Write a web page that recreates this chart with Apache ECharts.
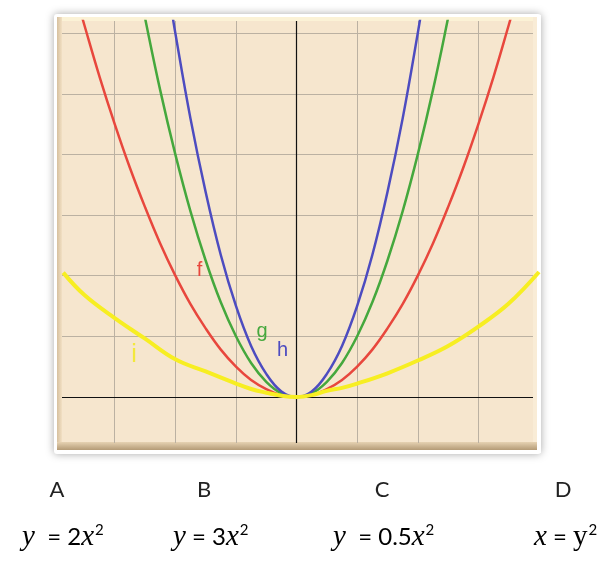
<!DOCTYPE html>
<html>
<head>
<meta charset="utf-8">
<script src="https://cdn.jsdelivr.net/npm/echarts@6/dist/echarts.min.js"></script>
<style>
html,body{margin:0;padding:0;background:#fff;}
#chart{width:612px;height:562px;}
</style>
</head>
<body>
<div id="chart"></div>
<script>
// ---- data ----
var curveF = [[-3.6,6.48],[-3.5,6.13],[-3.25,5.28],[-3,4.5],[-2.75,3.78],[-2.5,3.13],[-2.25,2.53],[-2,2],[-1.75,1.53],[-1.5,1.13],[-1.25,0.78],[-1,0.5],[-0.75,0.28],[-0.5,0.13],[-0.25,0.03],[0,0],[0.25,0.03],[0.5,0.13],[0.75,0.28],[1,0.5],[1.25,0.78],[1.5,1.13],[1.75,1.53],[2,2],[2.25,2.53],[2.5,3.13],[2.75,3.78],[3,4.5],[3.25,5.28],[3.5,6.13],[3.6,6.48]];
var curveG = [[-2.6,6.76],[-2.5,6.25],[-2.25,5.06],[-2,4],[-1.75,3.06],[-1.5,2.25],[-1.25,1.56],[-1,1],[-0.75,0.56],[-0.5,0.25],[-0.25,0.06],[0,0],[0.25,0.06],[0.5,0.25],[0.75,0.56],[1,1],[1.25,1.56],[1.5,2.25],[1.75,3.06],[2,4],[2.25,5.06],[2.5,6.25],[2.6,6.76]];
var curveH = [[-2.1,6.62],[-2,6],[-1.75,4.59],[-1.5,3.38],[-1.25,2.34],[-1,1.5],[-0.75,0.84],[-0.5,0.38],[-0.25,0.09],[0,0],[0.25,0.09],[0.5,0.38],[0.75,0.84],[1,1.5],[1.25,2.34],[1.5,3.38],[1.75,4.59],[2,6],[2.1,6.62]];
var curveI = [[-3.85,2.05],[-3.5,1.68],[-3,1.3],[-2.5,0.96],[-2,0.62],[-1.5,0.42],[-1,0.22],[-0.75,0.13],[-0.5,0.07],[-0.25,0.02],[0,0],[0.25,0.03],[0.5,0.1],[0.75,0.15],[1,0.22],[1.5,0.39],[2,0.6],[2.5,0.84],[3,1.16],[3.5,1.54],[4,2.06]];
var gridX = [-3,-2,-1,1,2,3];
var gridY = [1,2,3,4,5,6];
var curveNames = ['f','g','h','i'];
var labelPos = [[-1.6,2.09],[-0.57,1.08],[-0.23,0.77],[-2.68,0.69]];
var letters = ['A','B','C','D'];
var equations = [
  '{i|y}{n|  = 2}{i|x}{s|2}',
  '{i|y}{n| = 3}{i|x}{s|2}',
  '{i|y}{n|  = 0.5}{i|x}{s|2}',
  '{i|x}{n| = }{u|y}{s|2}'
];

var colors = ['#e8473d','#45a83d','#4d4cc0','#f7ee22'];
var chart = echarts.init(document.getElementById('chart'));

var rich = {
  i:{fontFamily:'Liberation Serif',fontStyle:'italic',fontSize:29,color:'#222'},
  u:{fontFamily:'Liberation Serif',fontSize:29,color:'#222'},
  n:{fontFamily:'Lato',fontSize:24,color:'#222'},
  s:{fontFamily:'Lato',fontSize:15,color:'#222',padding:[0,0,13,1]}
};
var letterX = [57,204,382,563];
var eqX = [22,173,333,534];

var graphics = [
  {type:'rect',z:-20,shape:{x:54,y:14,width:487,height:440,r:3},style:{fill:'#fff',shadowBlur:8,shadowColor:'rgba(0,0,0,0.35)'}},
  {type:'rect',z:-19,shape:{x:57,y:17,width:480,height:433},style:{fill:'#f6e6ce'}},
  {type:'rect',z:-18,shape:{x:57,y:17,width:480,height:4},style:{fill:'#fbf2d6'}},
  {type:'rect',z:-18,shape:{x:57,y:17,width:5,height:433},style:{fill:new echarts.graphic.LinearGradient(0,0,1,0,[{offset:0,color:'#d6c09e'},{offset:1,color:'#f2e0c4'}])}},
  {type:'rect',z:-18,shape:{x:57,y:442,width:480,height:8},style:{fill:new echarts.graphic.LinearGradient(0,0,0,1,[{offset:0,color:'#e6d2b2'},{offset:1,color:'#b49b76'}])}},
  // right edge of the panel, drawn above the grid lines but below the curves
  {type:'rect',z:2,shape:{x:533,y:17,width:4,height:425},style:{fill:'#f9ecd6'}},
  {type:'rect',z:2,shape:{x:537,y:15,width:4,height:438},style:{fill:'#fff'}}
];
letters.forEach(function(l,k){
  graphics.push({type:'text',z:50,x:letterX[k],y:490,style:{text:l,fontFamily:'Lato',fontSize:22,fill:'#222',align:'center',verticalAlign:'middle'}});
});
equations.forEach(function(e,k){
  graphics.push({type:'text',z:50,x:eqX[k],y:537,style:{text:e,rich:rich,align:'left',verticalAlign:'middle'}});
});

var series = [];
series.push({
  type:'line', data:[[0,0]], showSymbol:false, lineStyle:{width:0}, z:1, silent:true,
  markLine:{
    silent:true, symbol:'none', z:1, animation:false, label:{show:false},
    data: gridX.map(function(v){return {xAxis:v, lineStyle:{color:'#bbb1a2',width:1,type:'solid'}};})
      .concat(gridY.map(function(v){return {yAxis:v, lineStyle:{color:'#bbb1a2',width:1,type:'solid'}};}))
      .concat([{xAxis:0,lineStyle:{color:'#111',width:1.2,type:'solid'}},{yAxis:0,lineStyle:{color:'#111',width:1.2,type:'solid'}}])
  }
});
[curveF,curveG,curveH,curveI].forEach(function(d,k){
  series.push({
    type:'line', name:curveNames[k], data:d, smooth:0.4, showSymbol:false, z:3+k,
    lineStyle:{color:colors[k], width: k===3?4:2.5},
    markPoint:{
      symbol:'circle', symbolSize:0, animation:false,
      data:[{coord:labelPos[k], value:curveNames[k]}],
      label:{show:true, formatter:curveNames[k], color: k===3?'#f3e83c':colors[k], fontSize: k===3?25:20, fontFamily:'Liberation Sans', position:'inside'}
    }
  });
});

chart.setOption({
  animation:false,
  grid:{left:62,top:21,width:477,height:422,containLabel:false},
  xAxis:{type:'value',min:-3.87,max:4.0,axisLine:{show:false},axisTick:{show:false},axisLabel:{show:false},splitLine:{show:false}},
  yAxis:{type:'value',min:-0.76,max:6.2,axisLine:{show:false},axisTick:{show:false},axisLabel:{show:false},splitLine:{show:false}},
  graphic:graphics,
  series:series
});
</script>
</body>
</html>
